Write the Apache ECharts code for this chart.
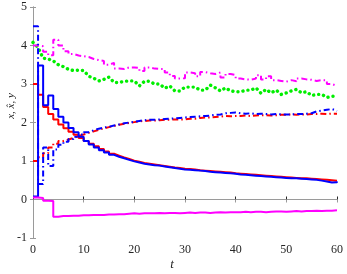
<!DOCTYPE html>
<html><head><meta charset="utf-8">
<script src="https://cdn.jsdelivr.net/npm/echarts@6/dist/echarts.min.js"></script>
<style>html,body{margin:0;padding:0;background:#fff}#c{width:347px;height:274px}</style>
</head><body><div id="c"></div>
<script>
const xTicks = [0, 10, 20, 30, 40, 50, 60];
const yTicks = [-1, 0, 1, 2, 3, 4, 5];
const t = Array.from({length: 61}, (_, i) => i);

const redSolid = [3.0,2.72,2.4,2.22,2.08,1.95,1.85,1.76,1.68,1.6,1.52,1.45,1.38,1.31,1.25,1.19,1.14,1.09,1.05,1.01,0.98,0.95,0.93,0.91,0.89,0.87,0.85,0.83,0.82,0.80,0.79,0.78,0.76,0.75,0.74,0.73,0.72,0.71,0.70,0.68,0.67,0.66,0.65,0.64,0.63,0.62,0.61,0.60,0.59,0.58,0.57,0.56,0.55,0.55,0.54,0.53,0.52,0.51,0.50,0.49,0.49];
const blueSolid = [0.08,3.48,2.45,2.7,2.35,2.15,2.0,1.86,1.75,1.63,1.52,1.43,1.35,1.28,1.22,1.16,1.11,1.07,1.03,0.99,0.96,0.93,0.91,0.89,0.88,0.86,0.84,0.82,0.80,0.78,0.77,0.76,0.75,0.74,0.72,0.71,0.70,0.69,0.68,0.67,0.65,0.64,0.63,0.62,0.61,0.60,0.59,0.58,0.57,0.56,0.55,0.55,0.54,0.53,0.52,0.51,0.49,0.47,0.44,0.45,0.47];
const redDashDot = [1.0,1.1,1.2,1.35,1.45,1.52,1.56,1.6,1.65,1.69,1.73,1.77,1.81,1.85,1.88,1.91,1.94,1.97,1.99,2.01,2.03,2.04,2.05,2.05,2.06,2.07,2.07,2.08,2.08,2.08,2.1,2.1,2.12,2.13,2.13,2.14,2.15,2.17,2.16,2.17,2.17,2.18,2.17,2.18,2.19,2.19,2.18,2.19,2.2,2.2,2.21,2.2,2.21,2.21,2.22,2.22,2.23,2.22,2.23,2.23,2.23];
const blueDashDot = [4.5,0.4,1.35,0.87,1.3,1.42,1.5,1.57,1.63,1.69,1.75,1.8,1.84,1.87,1.89,1.92,1.95,1.98,2.0,2.02,2.04,2.06,2.07,2.07,2.08,2.09,2.1,2.11,2.12,2.13,2.14,2.15,2.16,2.17,2.18,2.2,2.21,2.24,2.25,2.26,2.24,2.23,2.24,2.22,2.23,2.22,2.21,2.22,2.21,2.21,2.21,2.22,2.22,2.23,2.24,2.29,2.31,2.33,2.35,2.3,2.3];
const magentaDashDot = [4.0,3.98,3.84,3.75,4.15,4.0,3.85,3.78,3.74,3.72,3.7,3.65,3.62,3.6,3.5,3.55,3.4,3.39,3.43,3.43,3.42,3.34,3.43,3.4,3.39,3.39,3.3,3.21,3.14,3.15,3.3,3.28,3.2,3.31,3.28,3.26,3.3,3.17,3.26,3.23,3.14,3.12,3.11,3.14,3.23,3.12,3.2,3.1,3.08,3.06,3.1,3.07,3.14,3.12,3.11,3.08,3.1,3.1,3.0,2.95,2.95];
const greenDotted = [4.08,3.95,3.67,3.65,3.6,3.5,3.45,3.38,3.35,3.36,3.35,3.2,3.15,3.08,3.12,3.18,3.04,3.04,3.07,3.08,3.08,2.95,3.07,3.07,3.0,3.0,2.89,2.95,2.82,2.82,2.92,2.92,2.92,2.84,2.84,2.97,2.9,2.82,2.9,2.82,2.8,2.8,2.84,2.84,2.9,2.76,2.86,2.77,2.84,2.73,2.77,2.82,2.86,2.77,2.8,2.7,2.73,2.73,2.65,2.68,2.68];
const magentaSolid = [0.05,0.04,-0.03,-0.04,-0.45,-0.43,-0.43,-0.42,-0.42,-0.41,-0.41,-0.40,-0.40,-0.40,-0.39,-0.39,-0.38,-0.38,-0.37,-0.36,-0.37,-0.36,-0.36,-0.36,-0.35,-0.36,-0.35,-0.35,-0.36,-0.35,-0.34,-0.35,-0.34,-0.34,-0.35,-0.34,-0.33,-0.34,-0.33,-0.33,-0.33,-0.32,-0.33,-0.32,-0.32,-0.33,-0.32,-0.31,-0.31,-0.32,-0.31,-0.30,-0.31,-0.30,-0.30,-0.29,-0.30,-0.29,-0.29,-0.28,-0.27];

const pairs = arr => t.map((x, i) => [x, arr[i]]);
const dashDot = [6, 3, 1.5, 3];

function mk(data, color, type, step, width, cap) {
  return {
    type: 'line', data: pairs(data), step: step, showSymbol: false, symbol: 'none',
    lineStyle: {color: color, width: width || 2, type: type, cap: cap || 'butt'}, silent: true
  };
}

const chart = echarts.init(document.getElementById('c'), null, {renderer: 'canvas'});
const axisLbl = {fontFamily: 'Liberation Serif', fontSize: 12, color: '#262626'};
chart.setOption({
  animation: false,
  backgroundColor: '#fff',
  grid: {left: 33, right: 10, top: 7, bottom: 36, containLabel: false},
  xAxis: [
    {type: 'value', min: xTicks[0], max: xTicks[xTicks.length-1], interval: 10, position: 'bottom',
     axisLine: {show: true, lineStyle: {color: '#262626', width: 1}},
     axisTick: {show: true, inside: true, length: 3, lineStyle: {color: '#262626'}},
     axisLabel: Object.assign({margin: 6}, axisLbl), splitLine: {show: false}},
    {type: 'value', min: xTicks[0], max: xTicks[xTicks.length-1], interval: 10, position: 'top',
     axisLine: {show: true, lineStyle: {color: '#9a9a9a', width: 1}},
     axisTick: {show: true, inside: true, length: 3, lineStyle: {color: '#9a9a9a'}},
     axisLabel: {show: false}, splitLine: {show: false}}
  ],
  yAxis: [
    {type: 'value', min: yTicks[0], max: yTicks[yTicks.length-1], interval: 1, position: 'left',
     axisLine: {show: true, lineStyle: {color: '#9a9a9a', width: 1}},
     axisTick: {show: true, inside: true, length: 3, lineStyle: {color: '#9a9a9a'}},
     axisLabel: Object.assign({margin: 6}, axisLbl), splitLine: {show: false}},
    {type: 'value', min: yTicks[0], max: yTicks[yTicks.length-1], interval: 1, position: 'right',
     axisLine: {show: true, lineStyle: {color: '#9a9a9a', width: 1}},
     axisTick: {show: true, inside: true, length: 3, lineStyle: {color: '#9a9a9a'}},
     axisLabel: {show: false}, splitLine: {show: false}}
  ],
  graphic: [
    {type: 'text', x: 172, y: 265, style: {text: 't', font: 'italic 13px "Liberation Serif"', fill: '#262626', align: 'center', verticalAlign: 'middle'}},
    {type: 'text', x: 11, y: 106, rotation: Math.PI/2, style: {text: 'x, x\u0302, y', font: 'italic 11px "Liberation Serif"', fill: '#262626', align: 'center', verticalAlign: 'middle'}}
  ],
  series: [
    mk(greenDotted, '#00ee00', [0.1, 5], false, 3.4, 'round'),
    mk(magentaDashDot, '#ff00ff', dashDot, 'end'),
    mk(redDashDot, '#ff0000', dashDot, 'end'),
    mk(blueDashDot, '#0000ff', dashDot, 'end'),
    mk(redSolid, '#ff0000', 'solid', 'end'),
    mk(blueSolid, '#0000ff', 'solid', 'end'),
    mk(magentaSolid, '#ff00ff', 'solid', 'end')
  ]
});
</script></body></html>
